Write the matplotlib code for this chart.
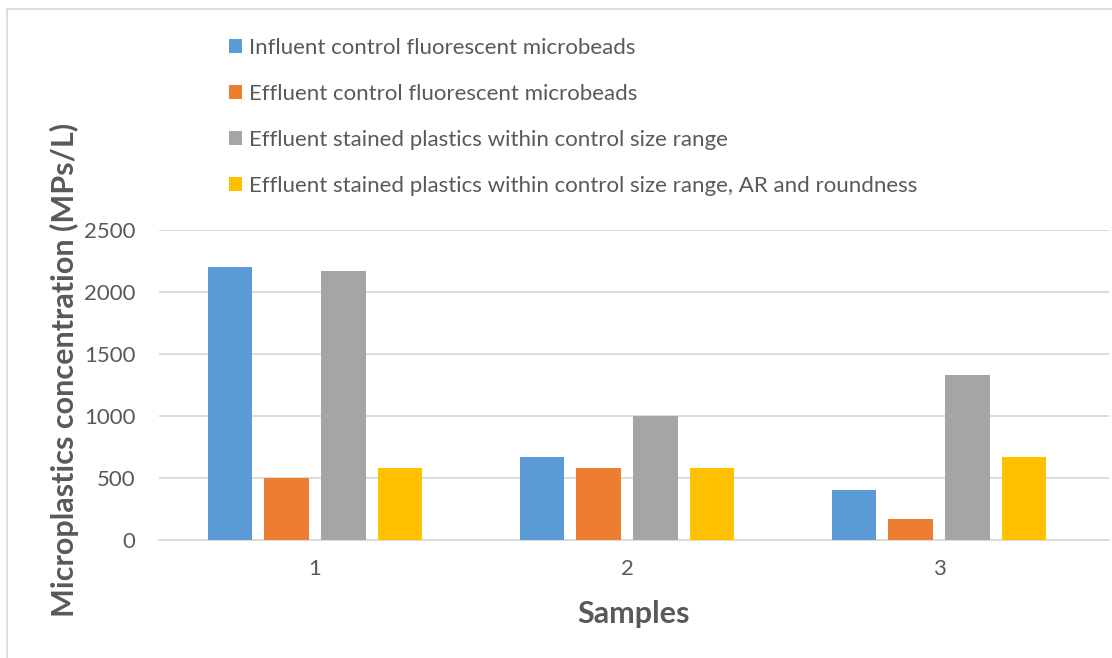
import matplotlib.pyplot as plt
import numpy as np
from matplotlib.lines import Line2D
from matplotlib.patches import Patch

plt.rcParams['font.family'] = ['Lato', 'DejaVu Sans']

samples = ['1', '2', '3']
series_names = ['Influent control fluorescent microbeads',
                'Effluent control fluorescent microbeads',
                'Effluent stained plastics within control size range',
                'Effluent stained plastics within control size range, AR and roundness']
influent_beads = [2200, 667, 400]
effluent_beads = [500, 583, 167]
stained_size = [2167, 1000, 1333]
stained_size_ar = [583, 583, 667]
colours = ['#5B9BD5', '#ED7D31', '#A5A5A5', '#FFC000']
yticks = [0, 500, 1000, 1500, 2000, 2500]

text_grey = '#595959'
grid_grey = '#D9D9D9'

fig = plt.figure(figsize=(11.12, 6.58), dpi=100)
ax = fig.add_axes([159 / 1112, 1 - 540 / 658, 950 / 1112, 310 / 658])

x = np.arange(len(samples))
pitch = 0.1817
width = 0.1426
all_series = [influent_beads, effluent_beads, stained_size, stained_size_ar]
for i, vals in enumerate(all_series):
    ax.bar(x + (i - 1.5) * pitch, vals, width, color=colours[i], zorder=3)

ax.set_xlim(-0.5, 2.545)
ax.set_ylim(0, 2500)
ax.set_yticks(yticks)
ax.set_yticklabels([str(t) for t in yticks])
ax.set_xticks(x)
ax.set_xticklabels(samples)
ax.grid(axis='y', color=grid_grey, linewidth=1.3, zorder=0)
ax.tick_params(axis='both', length=0, labelsize=16, colors=text_grey)
ax.tick_params(axis='y', pad=17)
ax.tick_params(axis='x', pad=14)
for side in ['top', 'right', 'left']:
    ax.spines[side].set_visible(False)
ax.spines['bottom'].set_color(grid_grey)
ax.spines['bottom'].set_linewidth(1.3)

ax.set_xlabel('Samples', fontsize=22, fontweight='bold', color=text_grey, labelpad=15)
fig.text(64 / 1112, 1 - 370 / 658, 'Microplastics concentration (MPs/L)', rotation=90,
         fontsize=22, fontweight='bold', color=text_grey, ha='center', va='center')

handles = [Patch(facecolor=c, edgecolor='none') for c in colours]
fig.legend(handles, series_names, loc='upper left', bbox_to_anchor=(229 / 1112, 1 - 38 / 658),
           frameon=False, fontsize=16, handlelength=0.6, handleheight=0.6,
           handletextpad=0.3, labelspacing=1.17, borderpad=0, borderaxespad=0,
           labelcolor=text_grey)

# chart border, only the top and left edges fall inside the image
fig.add_artist(Line2D([7 / 1112, 7 / 1112], [0, 1 - 9 / 658], color=grid_grey, linewidth=1.2))
fig.add_artist(Line2D([7 / 1112, 1], [1 - 9 / 658, 1 - 9 / 658], color=grid_grey, linewidth=1.2))

fig.savefig('out.png', dpi=100)
